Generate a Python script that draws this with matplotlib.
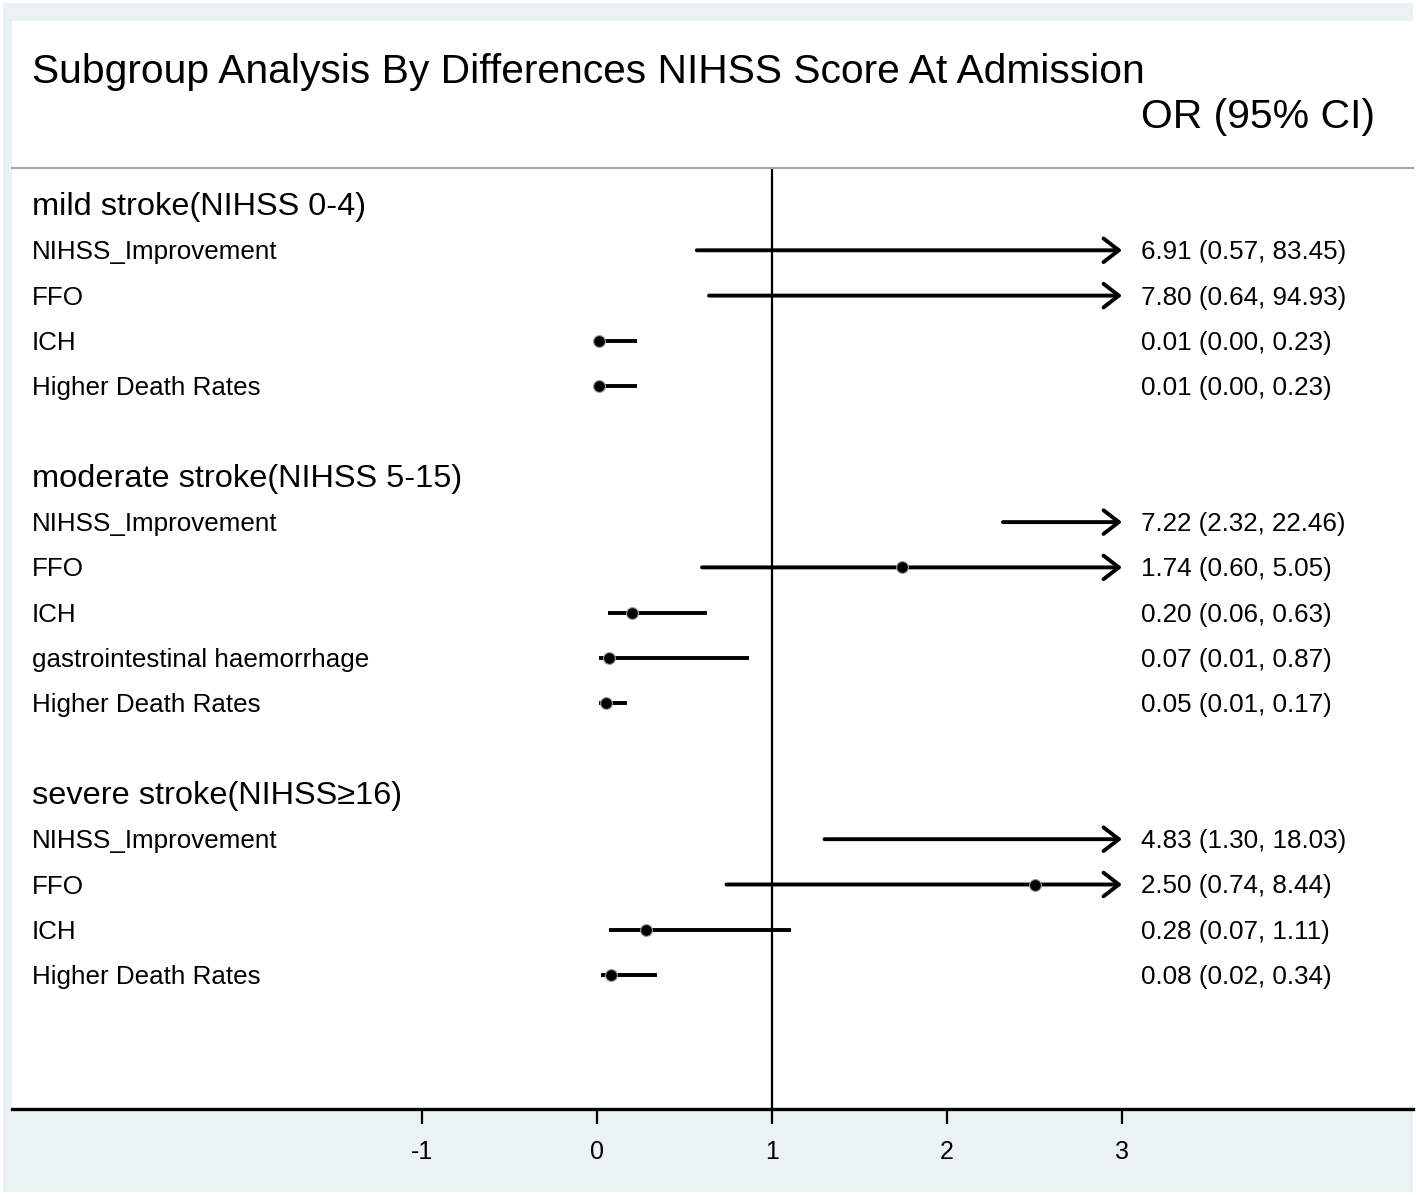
import matplotlib
matplotlib.use("Agg")
import matplotlib.pyplot as plt
import matplotlib.transforms as mtransforms
from matplotlib.patches import Rectangle

plt.rcParams['font.family'] = ['Liberation Sans', 'DejaVu Sans']

title = "Subgroup Analysis By Differences NIHSS Score At Admission"
col_header = "OR (95% CI)"

groups = ["mild stroke(NIHSS 0-4)",
          "moderate stroke(NIHSS 5-15)",
          "severe stroke(NIHSS\u226516)"]

mild_labels = ["NIHSS_Improvement", "FFO", "ICH", "Higher Death Rates"]
mild_or = [6.91, 7.80, 0.01, 0.01]
mild_lo = [0.57, 0.64, 0.00, 0.00]
mild_hi = [83.45, 94.93, 0.23, 0.23]

moderate_labels = ["NIHSS_Improvement", "FFO", "ICH",
                   "gastrointestinal haemorrhage", "Higher Death Rates"]
moderate_or = [7.22, 1.74, 0.20, 0.07, 0.05]
moderate_lo = [2.32, 0.60, 0.06, 0.01, 0.01]
moderate_hi = [22.46, 5.05, 0.63, 0.87, 0.17]

severe_labels = ["NIHSS_Improvement", "FFO", "ICH", "Higher Death Rates"]
severe_or = [4.83, 2.50, 0.28, 0.08]
severe_lo = [1.30, 0.74, 0.07, 0.02]
severe_hi = [18.03, 8.44, 1.11, 0.34]

xticks = [-1, 0, 1, 2, 3]
x_max = 3

W, H = 1416, 1195
fig = plt.figure(figsize=(W / 100, H / 100), dpi=100)
fig.patch.set_facecolor("white")
bg = "#EAF2F3"
fig.patches.append(Rectangle((3 / W, 3 / H), (W - 6) / W, (H - 6) / H,
                             transform=fig.transFigure, facecolor=bg,
                             edgecolor="none", zorder=-10))
fig.patches.append(Rectangle((12 / W, 1 - 1109 / H), (1413 - 12) / W, (1109 - 21) / H,
                             transform=fig.transFigure, facecolor="white",
                             edgecolor="none", zorder=-9))

ax = fig.add_axes([12 / W, 1 - 1109 / H, (1413 - 12) / W, (1109 - 168) / H])
ax.set_facecolor("white")
px0, pxu = 597, 175.0
ax.set_xlim((12 - px0) / pxu, (1413 - px0) / pxu)
row0, rowh = 205, 45.3
ax.set_ylim((1109 - row0) / rowh, (168 - row0) / rowh)

for s in ["left", "right"]:
    ax.spines[s].set_visible(False)
ax.spines["top"].set_color("#A8A8A8")
ax.spines["top"].set_linewidth(1.6)
ax.spines["bottom"].set_color("black")
ax.spines["bottom"].set_linewidth(2.4)

ax.set_xticks(xticks)
ax.set_xticklabels([str(t) for t in xticks], fontsize=18)
ax.tick_params(axis="x", direction="out", length=11, width=1.6, pad=11, colors="black")
ax.set_yticks([])

ax.axvline(1, color="black", lw=1.6, zorder=2)

bt = mtransforms.blended_transform_factory(ax.transAxes, ax.transData)
bt = bt + mtransforms.ScaledTranslation(0, -2 / 100, fig.dpi_scale_trans)
lab_x = (32 - 12) / (1413 - 12)
val_x = (1141 - 12) / (1413 - 12)

sections = [
    (groups[0], mild_labels, mild_or, mild_lo, mild_hi),
    (groups[1], moderate_labels, moderate_or, moderate_lo, moderate_hi),
    (groups[2], severe_labels, severe_or, severe_lo, severe_hi),
]

row = 0
for gname, labels, ors, los, his in sections:
    ax.text(lab_x, row, gname, transform=bt, fontsize=23.4, va="center", ha="left")
    row += 1
    for lab, o, lo, hi in zip(labels, ors, los, his):
        ax.text(lab_x, row, lab, transform=bt, fontsize=18.7, va="center", ha="left")
        ax.text(val_x, row, f"{o:.2f} ({lo:.2f}, {hi:.2f})", transform=bt,
                fontsize=18.7, va="center", ha="left")
        if hi > x_max:
            ax.annotate("", xy=(x_max, row), xytext=(lo, row),
                        arrowprops=dict(arrowstyle="->,head_length=1.1,head_width=0.85",
                                        lw=2.8, color="black", shrinkA=0, shrinkB=0),
                        zorder=3)
        else:
            ax.plot([lo, hi], [row, row], color="black", lw=2.8,
                    solid_capstyle="butt", zorder=3)
        if o <= x_max:
            ax.plot([o], [row], marker="o", ms=8.5, color="black",
                    mec="#9a9a9a", mew=0.8, zorder=4)
        row += 1
    row += 1

fig.text(32 / W, 1 - 72 / H, title, fontsize=29.3, va="center", ha="left")
fig.text(1141 / W, 1 - 117 / H, col_header, fontsize=29.4, va="center", ha="left")

fig.savefig("out.png", dpi=100, facecolor=fig.get_facecolor())
